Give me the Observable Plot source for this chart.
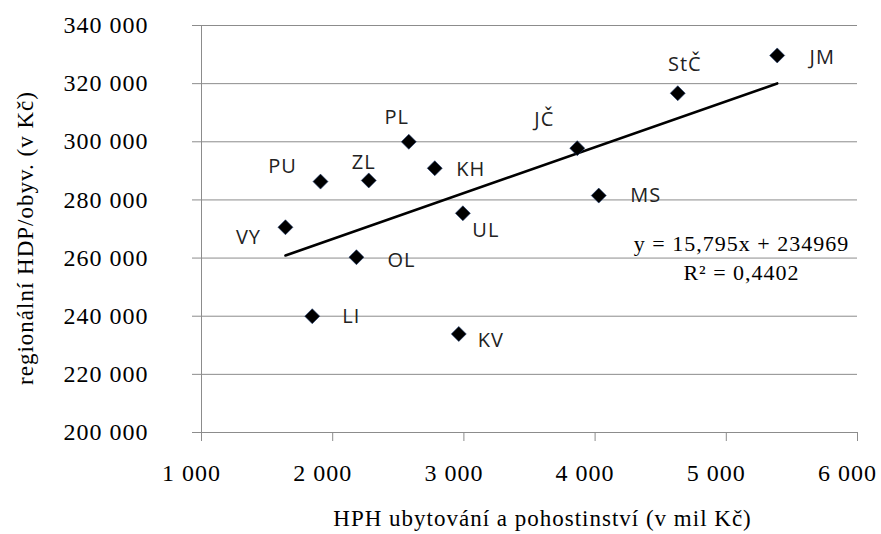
<!DOCTYPE html>
<html><head><meta charset="utf-8">
<script src="https://cdn.jsdelivr.net/npm/d3@7"></script>
<script src="https://cdn.jsdelivr.net/npm/@observablehq/plot@0.6"></script>
<style>body{margin:0;background:#fff}</style>
</head><body><div id="chart"></div>
<script>
// --- data ---
const regions = ["JM", "StČ", "JČ", "MS", "PL", "KH", "ZL", "PU", "UL", "VY", "OL", "LI", "KV"];
const hph = [5388, 4630, 3864, 4028, 2580, 2778, 2275, 1907, 2992, 1640, 2181, 1844, 2961];
const hdp = [329700, 316700, 297800, 281500, 300000, 290900, 286700, 286300, 275400, 270600, 260300, 240000, 233900];
const xTicks = [1000, 2000, 3000, 4000, 5000, 6000];
const yTicks = [200000, 220000, 240000, 260000, 280000, 300000, 320000, 340000];
const slope = 15.795;
const intercept = 234969;
const r2 = 0.4402;
const xTitle = "HPH ubytování a pohostinství (v mil Kč)";
const yTitle = "regionální HDP/obyv. (v Kč)";

// --- layout (label placement relative to each point) ---
const labelOffset = {
  "JM": [45, 2], "StČ": [7, -29], "JČ": [-33, -29], "MS": [47, 0], "PL": [-12, -24],
  "KH": [36, 1], "ZL": [-5, -18], "PU": [-38, -15], "UL": [23, 17], "VY": [-37, 10],
  "OL": [45, 3], "LI": [39, 0], "KV": [32, 7]
};

const loc = d3.formatLocale({decimal: ",", thousands: " ", grouping: [3], currency: ["", ""]});
const fmt = loc.format(",");
const data = regions.map((r, i) => ({region: r, x: hph[i], y: hdp[i]}));
const trend = d3.extent(hph).map(x => ({x, y: slope * x + intercept}));
const eqText = `y = ${loc.format(".3f")(slope)}x + ${intercept}`;
const r2Text = `R² = ${loc.format(".4f")(r2)}`;

const diamond = {
  draw(ctx, size) {
    const h = Math.sqrt(size / Math.PI);
    ctx.moveTo(0, -h); ctx.lineTo(h, 0); ctx.lineTo(0, h); ctx.lineTo(-h, 0); ctx.closePath();
  }
};

const grid = "#8c8c8c";
const labelFont = "'Open Sans', sans-serif";

const chart = Plot.plot({
  width: 881, height: 534,
  marginLeft: 201, marginRight: 24, marginTop: 25, marginBottom: 102,
  style: {fontFamily: "'Liberation Serif', 'Times New Roman', serif", fontSize: "24px", color: "#000", letterSpacing: "1px"},
  x: {domain: [1000, 6000]},
  y: {domain: [200000, 340000]},
  marks: [
    Plot.ruleY(yTicks, {stroke: grid, strokeWidth: 1}),
    Plot.ruleX([1000], {stroke: grid, strokeWidth: 1}),
    Plot.axisY({ticks: yTicks, tickFormat: fmt, tickSize: 9, tickPadding: 44, stroke: grid, fill: "#000", label: null}),
    Plot.axisX({ticks: xTicks, tickFormat: fmt, tickSize: 9, stroke: grid, fill: "none", label: null}),
    Plot.axisX({ticks: xTicks, tickFormat: fmt, tickSize: 0, tickPadding: 31, dx: -10, fill: "#000", label: null}),
    Plot.line(trend, {x: "x", y: "y", stroke: "#000", strokeWidth: 2.6}),
    Plot.dot(data, {x: "x", y: "y", symbol: diamond, r: 7.5, fill: "#000", stroke: "#1f3a6e", strokeWidth: 0.6}),
    ...data.map(d => Plot.text([d], {
      x: "x", y: "y", text: "region",
      dx: labelOffset[d.region][0], dy: labelOffset[d.region][1],
      fontFamily: labelFont, fontSize: 20, fill: "#222", textAnchor: "middle", letterSpacing: "0.5px"
    })),
    Plot.text([eqText], {frameAnchor: "right", text: d => d, textAnchor: "middle", dx: -116, dy: 15, fontSize: 22, letterSpacing: "1.5px"}),
    Plot.text([r2Text], {frameAnchor: "right", text: d => d, textAnchor: "middle", dx: -116, dy: 44, fontSize: 22, letterSpacing: "1.5px"}),
    Plot.text([xTitle], {frameAnchor: "bottom", text: d => d, textAnchor: "middle", dx: 13, dy: 93, fontSize: 23, letterSpacing: "1.2px"}),
    Plot.text([yTitle], {frameAnchor: "left", text: d => d, textAnchor: "middle", rotate: -90, dx: -176, dy: 9, fontSize: 23, letterSpacing: "0.3px"})
  ]
});
document.getElementById("chart").appendChild(chart);
</script>
</body></html>
